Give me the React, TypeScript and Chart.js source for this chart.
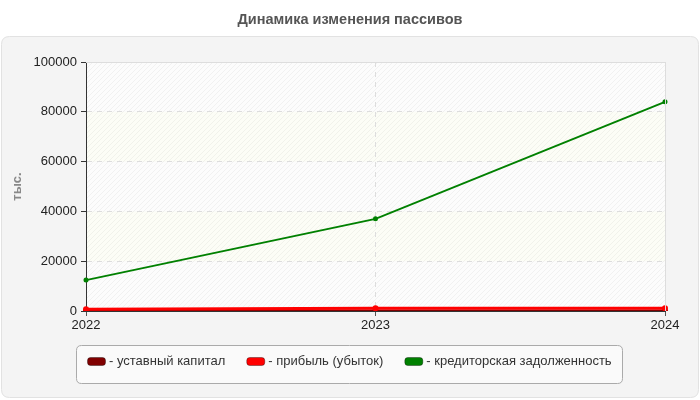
import React, { useEffect, useRef } from 'react';
import { Chart, registerables } from 'chart.js';

Chart.register(...registerables);

// chart data
const years = ['2022', '2023', '2024'];
const ustavCapital = [10, 10, 10];
const profit = [700, 1100, 1150];
const creditorDebt = [12400, 37000, 84000];
const seriesLabels = ['- уставный капитал', '- прибыль (убыток)', '- кредиторская задолженность'];
const seriesColors = ['#800000', '#ff0000', '#008000'];

const FONT = '"Liberation Sans", Arial, sans-serif';

const makeStripes = (): CanvasPattern | null => {
  const c = document.createElement('canvas');
  c.width = 5;
  c.height = 5;
  const g = c.getContext('2d');
  if (!g) return null;
  g.strokeStyle = 'rgba(0,0,0,0.045)';
  g.lineWidth = 1;
  g.beginPath();
  g.moveTo(0, 5);
  g.lineTo(5, 0);
  g.moveTo(-1, 1);
  g.lineTo(1, -1);
  g.moveTo(4, 6);
  g.lineTo(6, 4);
  g.stroke();
  return g.createPattern(c, 'repeat');
};

const roundRect = (ctx: CanvasRenderingContext2D, x: number, y: number, w: number, h: number, r: number) => {
  ctx.beginPath();
  ctx.moveTo(x + r, y);
  ctx.lineTo(x + w - r, y);
  ctx.quadraticCurveTo(x + w, y, x + w, y + r);
  ctx.lineTo(x + w, y + h - r);
  ctx.quadraticCurveTo(x + w, y + h, x + w - r, y + h);
  ctx.lineTo(x + r, y + h);
  ctx.quadraticCurveTo(x, y + h, x, y + h - r);
  ctx.lineTo(x, y + r);
  ctx.quadraticCurveTo(x, y, x + r, y);
  ctx.closePath();
};

// background, title, panel and plot bands
const backdrop = {
  id: 'backdrop',
  beforeDraw(chart: any) {
    const { ctx, chartArea } = chart;
    const { left, right, top, bottom } = chartArea;
    ctx.save();
    ctx.fillStyle = '#ffffff';
    ctx.fillRect(0, 0, chart.width, chart.height);

    ctx.fillStyle = '#555555';
    ctx.font = `bold 14.5px ${FONT}`;
    ctx.textAlign = 'center';
    ctx.textBaseline = 'middle';
    ctx.fillText('Динамика изменения пассивов', 350, 20);

    roundRect(ctx, 1.5, 36.5, 697, 361, 8);
    ctx.fillStyle = '#f4f4f4';
    ctx.fill();
    ctx.strokeStyle = '#e2e2e2';
    ctx.lineWidth = 1;
    ctx.stroke();

    const y = chart.scales.y;
    const ticks = y.ticks;
    for (let i = 0; i < ticks.length - 1; i++) {
      const y0 = y.getPixelForValue(ticks[i].value);
      const y1 = y.getPixelForValue(ticks[i + 1].value);
      ctx.fillStyle = i % 2 === 0 ? '#fcfcfc' : '#fcfdf6';
      ctx.fillRect(left, y1, right - left, y0 - y1);
    }
    const pat = makeStripes();
    if (pat) {
      ctx.fillStyle = pat;
      ctx.fillRect(left, top, right - left, bottom - top);
    }
    ctx.restore();
  },
  afterDraw(chart: any) {
    const { ctx, chartArea } = chart;
    const { left, right, top, bottom } = chartArea;
    ctx.save();
    ctx.strokeStyle = '#dddddd';
    ctx.lineWidth = 1;
    ctx.beginPath();
    ctx.moveTo(left, top + 0.5);
    ctx.lineTo(right + 0.5, top + 0.5);
    ctx.lineTo(right + 0.5, bottom);
    ctx.stroke();

    // legend box
    roundRect(ctx, 76.5, 345.5, 546, 38, 5);
    ctx.fillStyle = '#fafafa';
    ctx.fill();
    ctx.strokeStyle = '#aaaaaa';
    ctx.stroke();

    ctx.font = `13px ${FONT}`;
    ctx.textAlign = 'left';
    ctx.textBaseline = 'middle';
    let x = 87;
    seriesLabels.forEach((label, i) => {
      roundRect(ctx, x + 0.5, 357.5, 18, 8, 3);
      ctx.fillStyle = seriesColors[i];
      ctx.fill();
      ctx.strokeStyle = 'rgba(0,0,0,0.35)';
      ctx.stroke();
      ctx.fillStyle = '#333333';
      ctx.fillText(label, x + 22, 361);
      x += 22 + ctx.measureText(label).width + 21;
    });
    ctx.restore();
  },
};

const App: React.FC = () => {
  const canvasRef = useRef<HTMLCanvasElement>(null);

  useEffect(() => {
    document.body.style.margin = '0';
    if (!canvasRef.current) return;
    const chart = new Chart(canvasRef.current, {
      type: 'line',
      data: {
        labels: years,
        datasets: [
          {
            label: seriesLabels[0],
            data: ustavCapital,
            borderColor: seriesColors[0],
            backgroundColor: seriesColors[0],
            borderWidth: 3,
            pointRadius: 1.5,
            order: 2,
          },
          {
            label: seriesLabels[1],
            data: profit,
            borderColor: seriesColors[1],
            backgroundColor: seriesColors[1],
            borderWidth: 3,
            pointRadius: 1.5,
            order: 1,
          },
          {
            label: seriesLabels[2],
            data: creditorDebt,
            borderColor: seriesColors[2],
            backgroundColor: seriesColors[2],
            borderWidth: 2,
            pointRadius: 1.5,
            order: 0,
          },
        ],
      },
      options: {
        responsive: false,
        animation: false,
        layout: { padding: { top: 62, right: 35, bottom: 0, left: 0 } },
        plugins: {
          legend: { display: false },
          tooltip: { enabled: false },
        },
        scales: {
          x: {
            offset: false,
            afterFit: (scale: any) => {
              scale.height = 89;
            },
            grid: {
              color: '#dddddd',
              tickColor: '#555555',
              tickLength: 5,
            },
            border: { color: '#333333', dash: [5, 5] },
            ticks: {
              color: '#222222',
              padding: 2,
              maxRotation: 0,
              font: { family: FONT, size: 13 },
            },
          },
          y: {
            min: 0,
            max: 100000,
            afterFit: (scale: any) => {
              scale.width = 86;
            },
            grid: {
              color: '#dddddd',
              tickColor: '#333333',
              tickLength: 5,
            },
            border: { color: '#333333', dash: [5, 5] },
            ticks: {
              stepSize: 20000,
              color: '#222222',
              padding: 4,
              font: { family: FONT, size: 13 },
              callback: (v: any) => String(v),
            },
            title: {
              display: true,
              text: 'тыс.',
              color: '#888888',
              padding: { top: 10, bottom: 0 },
              font: { family: FONT, size: 13, weight: 'bold' },
            },
          },
        },
      },
      plugins: [backdrop],
    });
    return () => chart.destroy();
  }, []);

  return (
    <div style={{ width: 700, height: 400 }}>
      <canvas ref={canvasRef} width={700} height={400} />
    </div>
  );
};

export default App;
